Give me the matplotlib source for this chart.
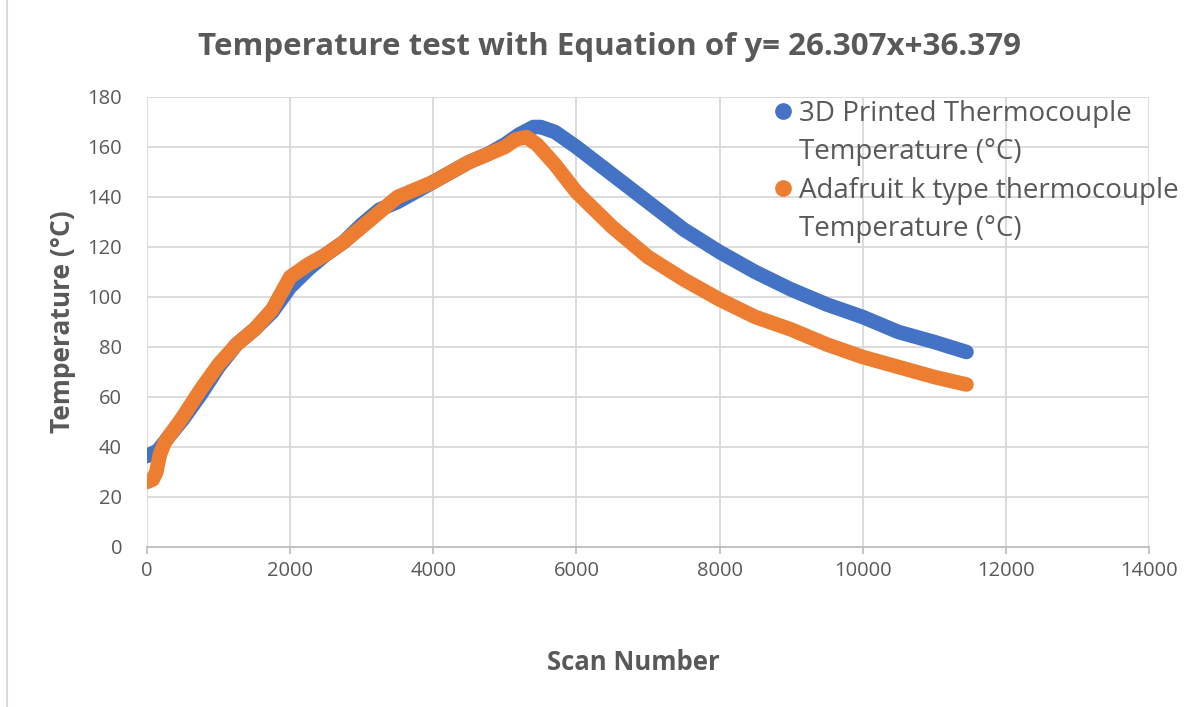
import matplotlib.pyplot as plt
from matplotlib.lines import Line2D

# Readings taken off the reference chart (scan number vs temperature)
scan_3d = [0, 150, 300, 500, 750, 1000, 1250, 1500, 1750, 2000, 2250, 2500,
           2750, 3000, 3250, 3500, 3750, 4000, 4250, 4500, 4750, 5000, 5200,
           5400, 5500, 5700, 6000, 6500, 7000, 7500, 8000, 8500, 9000, 9500,
           10000, 10500, 11000, 11450]
temp_3d = [36.4, 38.5, 44, 51, 61, 72, 81, 87, 94, 104, 111, 117,
           122, 129, 135, 138, 142, 146, 150, 154, 157, 161, 165,
           168, 168, 166, 160, 149, 138, 127, 118, 110, 103, 97,
           92, 86, 82, 78]

scan_ada = [0, 80, 130, 180, 250, 350, 500, 750, 1000, 1250, 1500, 1750,
            2000, 2250, 2500, 2750, 3000, 3250, 3500, 3750, 4000, 4250, 4500,
            4750, 5000, 5150, 5300, 5450, 5700, 6000, 6500, 7000, 7500, 8000,
            8500, 9000, 9500, 10000, 10500, 11000, 11450]
temp_ada = [26, 27, 30, 37, 42, 46, 52, 63, 73, 81, 87, 95,
            108, 113, 117, 122, 128, 134, 140, 143, 146, 150, 154,
            157, 160, 163, 164, 161, 153, 142, 128, 116, 107, 99,
            92, 87, 81, 76, 72, 68, 65]

x_ticks = [0, 2000, 4000, 6000, 8000, 10000, 12000, 14000]
y_ticks = [0, 20, 40, 60, 80, 100, 120, 140, 160, 180]

labels = ["3D Printed Thermocouple\nTemperature (°C)",
          "Adafruit k type thermocouple\nTemperature (°C)"]
blue = "#4472c4"
orange = "#ed7d31"
grey_text = "#595959"

plt.rcParams['font.family'] = ['Open Sans', 'DejaVu Sans']

fig = plt.figure(figsize=(12.03, 7.07), dpi=100)
ax = fig.add_axes([147 / 1203, 160 / 707, 1002 / 1203, 450 / 707])

ax.plot(scan_3d, temp_3d, color=blue, lw=10.5, solid_capstyle='round',
        solid_joinstyle='round', zorder=3)
ax.plot(scan_ada, temp_ada, color=orange, lw=10.5, solid_capstyle='round',
        solid_joinstyle='round', zorder=4)

ax.set_xlim(0, 14000)
ax.set_ylim(0, 180)
ax.set_xticks(x_ticks)
ax.set_yticks(y_ticks)
ax.grid(True, color="#d9d9d9", lw=1.3)
ax.set_axisbelow(True)
for side in ['top', 'right', 'left']:
    ax.spines[side].set_visible(False)
ax.spines['bottom'].set_color("#bfbfbf")
ax.spines['bottom'].set_linewidth(1.3)
ax.tick_params(axis='x', colors="#bfbfbf", length=5, width=1.3,
               labelcolor=grey_text, labelsize=14.5, pad=5)
ax.tick_params(axis='y', length=0, labelcolor=grey_text, labelsize=14.5, pad=18)

# title is centred on the whole chart area, not the plot area
fig.text(609 / 1203, 1 - 47 / 707,
         "Temperature test with Equation of y= 26.307x+36.379",
         fontsize=22.5, fontweight='bold', color=grey_text,
         ha='center', va='center')
ax.set_xlabel("Scan Number", fontsize=18.5, fontweight='bold', color=grey_text)
ax.xaxis.set_label_coords((633 - 147) / 1002, -(662 - 547) / 450)
ax.xaxis.label.set_va('center')
ax.set_ylabel("Temperature (°C)", fontsize=19, fontweight='bold',
              color=grey_text)
ax.yaxis.set_label_coords(-(147 - 62) / 1002, 0.5)
ax.yaxis.label.set_va('center')

# Excel wraps the legend text; marker sits next to the first line only
handles, texts = [], []
for lab, col in zip(labels, [blue, orange]):
    first, second = lab.split("\n")
    handles.append(Line2D([], [], ls='none', marker='o', ms=11, color=col))
    texts.append(first)
    handles.append(Line2D([], [], ls='none', marker=None))
    texts.append(second)
leg = ax.legend(handles, texts, loc='upper left', bbox_to_anchor=(0.595, 1.05),
                frameon=False, fontsize=20, handletextpad=0.0,
                handlelength=1.1, labelspacing=0.38, labelcolor=grey_text)

# thin border of the chart area on the left
fig.add_artist(Line2D([7 / 1203, 7 / 1203], [0, 1], color="#d9d9d9", lw=1.5,
                      transform=fig.transFigure))

fig.savefig("out.png", dpi=100)
